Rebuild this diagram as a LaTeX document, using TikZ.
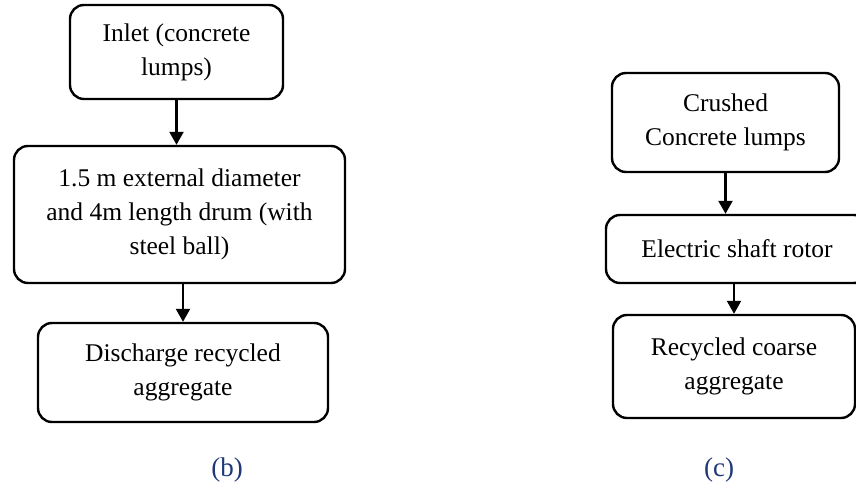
\documentclass[tikz,border=0pt]{standalone}
\usepackage{fontspec}
\setmainfont{Liberation Serif}
\usetikzlibrary{arrows.meta}
\definecolor{captionblue}{RGB}{32,56,120}

\begin{document}
\begin{tikzpicture}[
            x=1pt, y=-1pt,
            line width=2.4pt,
            stage/.style={rectangle, rounded corners=14pt, draw, inner sep=0pt, align=center,
                font=\fontsize{25.5}{34}\selectfont},
            flow/.style={-{Triangle[length=13pt,width=14pt]}, line width=2.2pt},
            tag/.style={font=\fontsize{27}{30}\selectfont, text=captionblue}
        ]
        \useasboundingbox (0,0) rectangle (856,486);

        % --- Nodes (b) ---
        \node[stage, minimum width=213pt, minimum height=94pt] (inlet) at (176.5,52)
            {Inlet (concrete\\lumps)};
        \node[stage, minimum width=331pt, minimum height=137pt] (drum) at (179.5,214.5)
            {1.5 m external diameter\\and 4m length drum (with\\steel ball)};
        \node[stage, minimum width=290pt, minimum height=99pt] (discharge) at (183,372.5)
            {Discharge recycled\\aggregate};
        \node[tag] (capb) at (227,470) {(b)};

        % --- Nodes (c) ---
        \node[stage, minimum width=227pt, minimum height=99pt] (crushed) at (725.5,122.5)
            {Crushed\\Concrete lumps};
        \node[stage, minimum width=262pt, minimum height=68pt] (rotor) at (737,249)
            {Electric shaft rotor};
        \node[stage, minimum width=242pt, minimum height=103pt] (coarse) at (734,366.5)
            {Recycled coarse\\aggregate};
        \node[tag] (capc) at (719,470) {(c)};

        % --- Arrows ---
        \draw[flow] (inlet.south) -- (inlet.south |- drum.north);
        \draw[flow] (discharge.north |- drum.south) -- (discharge.north);
        \draw[flow] (crushed.south) -- (crushed.south |- rotor.north);
        \draw[flow] (coarse.north |- rotor.south) -- (coarse.north);
        \end{tikzpicture}
\end{document}
